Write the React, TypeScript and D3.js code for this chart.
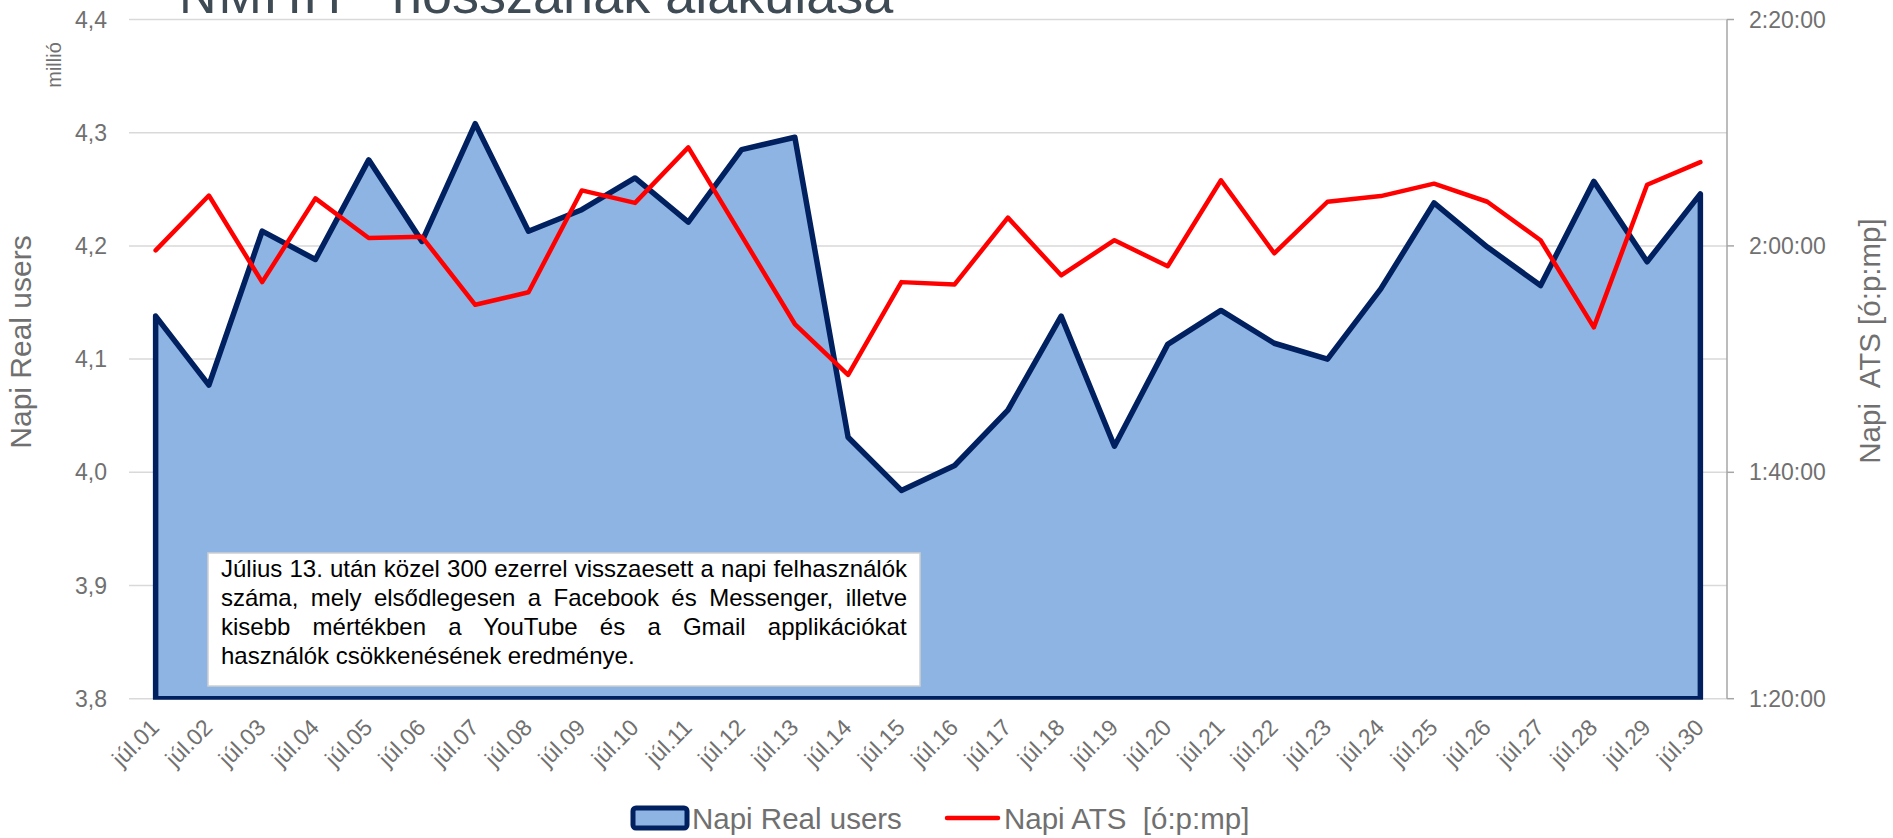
import React, { useMemo } from "react";
import * as d3 from "d3";

const categories = [
  "júl.01","júl.02","júl.03","júl.04","júl.05","júl.06","júl.07","júl.08","júl.09","júl.10",
  "júl.11","júl.12","júl.13","júl.14","júl.15","júl.16","júl.17","júl.18","júl.19","júl.20",
  "júl.21","júl.22","júl.23","júl.24","júl.25","júl.26","júl.27","júl.28","júl.29","júl.30",
];

// Napi Real users (millió)
const realUsers = [
  4.138, 4.077, 4.213, 4.188, 4.276, 4.204, 4.308, 4.213, 4.232, 4.260,
  4.221, 4.285, 4.296, 4.031, 3.984, 4.006, 4.055, 4.138, 4.023, 4.113,
  4.143, 4.114, 4.100, 4.162, 4.238, 4.199, 4.165, 4.257, 4.186, 4.246,
];

// Napi ATS [ó:p:mp]
const atsValues = [
  "1:59:36","2:04:27","1:56:48","2:04:12","2:00:42","2:00:48","1:54:48","1:55:54","2:04:54","2:03:48",
  "2:08:42","2:00:54","1:53:06","1:48:36","1:56:48","1:56:36","2:02:30","1:57:24","2:00:30","1:58:12",
  "2:05:48","1:59:21","2:03:54","2:04:24","2:05:30","2:03:54","2:00:30","1:52:48","2:05:24","2:07:24",
];

const leftTicks = [3.8, 3.9, 4.0, 4.1, 4.2, 4.3, 4.4];
const rightTicks = ["1:20:00", "1:40:00", "2:00:00", "2:20:00"];

const annotationLines = [
  "Július 13. után közel 300 ezerrel visszaesett a napi felhasználók",
  "száma, mely elsődlegesen a Facebook és Messenger, illetve",
  "kisebb mértékben a YouTube és a Gmail applikációkat",
  "használók csökkenésének eredménye.",
];

const seriesNames = ["Napi Real users", "Napi ATS  [ó:p:mp]"];
const titleText = "hosszának alakulása";
const logoText = "NMHH";

const toMinutes = (s: string) => {
  const [h, m, sec] = s.split(":").map(Number);
  return h * 60 + m + sec / 60;
};

const W = 1893;
const H = 838;
const plot = { left: 129, right: 1727, top: 19.5, bottom: 698.7 };
const FONT = "'Liberation Sans', Arial, sans-serif";
const GRAY = "#707070";
const NAVY = "#002060";
const FILL = "#8EB4E3";
const RED = "#FF0000";

export default function App() {
  const x = d3.scaleBand<string>().domain(categories).range([plot.left, plot.right]);
  const cx = (c: string) => (x(c) as number) + x.bandwidth() / 2;
  const yL = d3.scaleLinear().domain([3.8, 4.4]).range([plot.bottom, plot.top]);
  const yR = d3.scaleLinear().domain([80, 140]).range([plot.bottom, plot.top]);

  const areaGen = d3
    .area<number>()
    .x((_, i) => cx(categories[i]))
    .y0(yL(3.8))
    .y1((d) => yL(d));
  const areaPath = areaGen(realUsers) as string;
  const outline =
    `M${cx(categories[0])},${yL(3.8)}` +
    realUsers.map((d, i) => `L${cx(categories[i])},${yL(d)}`).join("") +
    `L${cx(categories[categories.length - 1])},${yL(3.8)}Z`;

  const lineGen = d3
    .line<string>()
    .x((_, i) => cx(categories[i]))
    .y((d) => yR(toMinutes(d)));
  const atsPath = lineGen(atsValues) as string;

  // justified annotation text
  const annFont = 24;
  const annLeft = 221;
  const annWidth = 686;
  const spacing = useMemo(() => {
    const canvas = document.createElement("canvas");
    const ctx = canvas.getContext("2d")!;
    ctx.font = `${annFont}px 'Liberation Sans'`;
    return annotationLines.map((ln, i) => {
      if (i === annotationLines.length - 1) return 0;
      const w = ctx.measureText(ln).width;
      const spaces = (ln.match(/ /g) || []).length;
      return spaces ? Math.max(0, (annWidth - w) / spaces) : 0;
    });
  }, []);

  const fmtL = (v: number) => d3.format(".1f")(v).replace(".", ",");

  return (
    <svg
      width={W}
      height={H}
      style={{ position: "absolute", left: 0, top: 0, background: "#fff" }}
      fontFamily={FONT}
    >
      <defs>
        <clipPath id="plotClip">
          <rect x={0} y={0} width={W} height={plot.bottom + 1} />
        </clipPath>
      </defs>

      {/* cut-off title */}
      <text x={179} y={12.5} fontSize={52} fill="#3e4a54" letterSpacing={2}>
        {logoText}
      </text>
      <text x={392} y={12.5} fontSize={54} fill="#3e4a54">
        {titleText}
      </text>

      {/* gridlines */}
      {leftTicks.map((t) => (
        <line
          key={t}
          x1={plot.left}
          x2={plot.right}
          y1={yL(t)}
          y2={yL(t)}
          stroke="#d9d9d9"
          strokeWidth={1.5}
        />
      ))}

      {/* left ticks */}
      {leftTicks.map((t) => (
        <text
          key={"l" + t}
          x={107}
          y={yL(t)}
          textAnchor="end"
          dominantBaseline="central"
          fontSize={23}
          fill={GRAY}
        >
          {fmtL(t)}
        </text>
      ))}

      {/* right axis */}
      <line x1={plot.right} x2={plot.right} y1={plot.top} y2={plot.bottom} stroke="#a6a6a6" strokeWidth={1.5} />
      {rightTicks.map((t) => {
        const y = yR(toMinutes(t));
        return (
          <g key={t}>
            <line x1={plot.right} x2={plot.right + 7} y1={y} y2={y} stroke="#a6a6a6" strokeWidth={1.5} />
            <text x={1749} y={y} dominantBaseline="central" fontSize={23} fill={GRAY}>
              {t}
            </text>
          </g>
        );
      })}

      {/* area */}
      <g clipPath="url(#plotClip)">
        <path d={areaPath} fill={FILL} />
        <path d={outline} fill="none" stroke={NAVY} strokeWidth={5.5} strokeLinejoin="round" />
      </g>

      {/* ATS line */}
      <path d={atsPath} fill="none" stroke={RED} strokeWidth={4.5} strokeLinejoin="round" strokeLinecap="round" />

      {/* annotation */}
      <rect x={208} y={553} width={712} height={133} fill="#fff" stroke="#d0d0d0" strokeWidth={1.5} />
      {annotationLines.map((ln, i) => (
        <text
          key={i}
          x={annLeft}
          y={577 + i * 29}
          fontSize={annFont}
          fill="#000"
          wordSpacing={spacing[i]}
          style={{ whiteSpace: "pre" }}
        >
          {ln}
        </text>
      ))}

      {/* x labels */}
      {categories.map((c) => (
        <text
          key={c}
          transform={`translate(${cx(c) + 5},${729}) rotate(-45)`}
          textAnchor="end"
          fontSize={23}
          fill={GRAY}
        >
          {c}
        </text>
      ))}

      {/* axis titles */}
      <text
        transform={`translate(${31},${342}) rotate(-90)`}
        textAnchor="middle"
        fontSize={30}
        fill={GRAY}
      >
        Napi Real users
      </text>
      <text transform={`translate(${61},${65}) rotate(-90)`} textAnchor="middle" fontSize={20} fill={GRAY}>
        millió
      </text>
      <text
        transform={`translate(${1880},${341}) rotate(-90)`}
        textAnchor="middle"
        fontSize={29.5}
        fill={GRAY}
        style={{ whiteSpace: "pre" }}
      >
        {"Napi  ATS [ó:p:mp]"}
      </text>

      {/* legend */}
      <rect x={633} y={808} width={54} height={20} rx={3} fill={FILL} stroke={NAVY} strokeWidth={5} />
      <text x={692} y={829} fontSize={29.5} fill={GRAY}>
        {seriesNames[0]}
      </text>
      <line x1={947} x2={998} y1={818} y2={818} stroke={RED} strokeWidth={4.5} strokeLinecap="round" />
      <text x={1004} y={829} fontSize={29.5} fill={GRAY} style={{ whiteSpace: "pre" }}>
        {seriesNames[1]}
      </text>
    </svg>
  );
}
